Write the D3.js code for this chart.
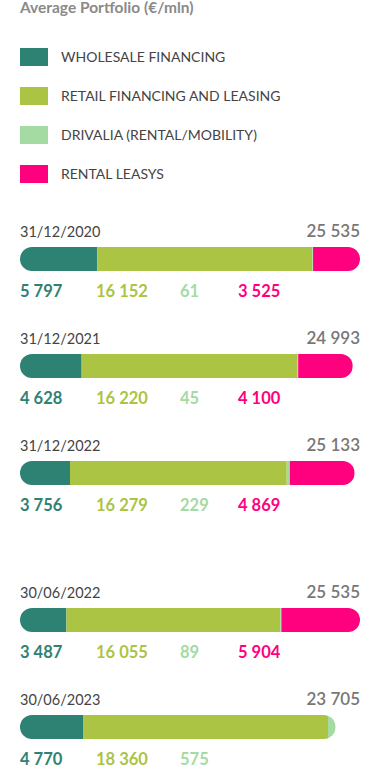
<!DOCTYPE html>
<html lang="en">
<head>
    <meta charset="UTF-8">
    <title>Average Portfolio</title>
    <script src="https://d3js.org/d3.v7.min.js"></script>
    <style>
        body { margin: 0; background: #fff; }
        svg text { font-family: Lato, "Open Sans", sans-serif; }
    </style>
</head>
<body>
    <script>
        // average portfolio (€/mln) by period
        var w = 380;
        var h = 766;

        var seriesNames = ['WHOLESALE FINANCING', 'RETAIL FINANCING AND LEASING', 'DRIVALIA (RENTAL/MOBILITY)', 'RENTAL LEASYS'];
        var seriesKeys = ['wholesale', 'retail', 'drivalia', 'rental'];
        var colors = ['#2e8274', '#abc443', '#a3dba2', '#ff007f'];

        var dates = ['31/12/2020', '31/12/2021', '31/12/2022', '30/06/2022', '30/06/2023'];
        var totals = [25535, 24993, 25133, 25535, 23705];
        var wholesale = [5797, 4628, 3756, 3487, 4770];
        var retail = [16152, 16220, 16279, 16055, 18360];
        var drivalia = [61, 45, 229, 89, 575];
        var rental = [3525, 4100, 4869, 5904, 0];

        var dataset = [];
        for (var i = 0; i < dates.length; i++) {
            dataset.push({
                date: dates[i],
                total: totals[i],
                wholesale: wholesale[i],
                retail: retail[i],
                drivalia: drivalia[i],
                rental: rental[i]
            });
        }

        var fmt = d3.formatLocale({ decimal: ',', thousands: ' ', grouping: [3], currency: ['', ''] }).format(',d');

        var barHeight = 24;
        var valueCols = [20, 96, 180, 238];

        var xScale = d3.scaleLinear()
                       .domain([0, d3.max(totals)])
                       .range([20, 360]);

        // groups are evenly spaced, with an extra gap before the half-year ones
        function groupY(i) {
            return 237 + i * 107 + (i >= 3 ? 40 : 0);
        }

        var stack = d3.stack().keys(seriesKeys);
        var stacked = stack(dataset);

        var svg = d3.select('body')
                    .append('svg')
                    .attr('width', w)
                    .attr('height', h);

        svg.append('text')
           .attr('x', 20)
           .attr('y', 13)
           .attr('font-size', 15.5)
           .attr('font-weight', 'bold')
           .attr('fill', '#8a8a8a')
           .text('Average Portfolio (€/mln)');

        // legend
        var legend = svg.selectAll('.legend')
                        .data(seriesNames)
                        .enter()
                        .append('g')
                        .attr('class', 'legend')
                        .attr('transform', function(d, i) {
                            return 'translate(20,' + (48 + i * 39) + ')';
                        });

        legend.append('rect')
              .attr('width', 28)
              .attr('height', 18)
              .attr('fill', function(d, i) { return colors[i]; });

        legend.append('text')
              .attr('x', 41)
              .attr('y', 14)
              .attr('font-size', 14)
              .attr('fill', '#444')
              .text(function(d) { return d; });

        // bar groups
        var groups = svg.selectAll('.group')
                        .data(dataset)
                        .enter()
                        .append('g')
                        .attr('class', 'group')
                        .attr('transform', function(d, i) {
                            return 'translate(0,' + groupY(i) + ')';
                        });

        groups.append('text')
              .attr('x', 20)
              .attr('y', 0)
              .attr('font-size', 14.5)
              .attr('fill', '#444')
              .text(function(d) { return d.date; });

        groups.append('text')
              .attr('x', 360)
              .attr('y', 0)
              .attr('text-anchor', 'end')
              .attr('font-size', 17)
              .attr('font-weight', 600)
              .attr('fill', '#777')
              .text(function(d) { return fmt(d.total); });

        groups.append('clipPath')
              .attr('id', function(d, i) { return 'clip' + i; })
              .append('rect')
              .attr('x', xScale(0))
              .attr('y', 10)
              .attr('width', function(d) { return xScale(d.total) - xScale(0); })
              .attr('height', barHeight)
              .attr('rx', barHeight / 2);

        groups.each(function(d, i) {
            var g = d3.select(this).append('g')
                      .attr('clip-path', 'url(#clip' + i + ')');
            g.selectAll('rect')
             .data(stacked.map(function(s) { return s[i]; }))
             .enter()
             .append('rect')
             .attr('x', function(p) { return xScale(p[0]); })
             .attr('y', 10)
             .attr('width', function(p) { return xScale(p[1]) - xScale(p[0]); })
             .attr('height', barHeight)
             .attr('fill', function(p, k) { return colors[k]; });
        });

        groups.each(function(d, i) {
            var vals = seriesKeys.map(function(k) { return d[k]; });
            d3.select(this).selectAll('.val')
              .data(vals.filter(function(v) { return v > 0; }))
              .enter()
              .append('text')
              .attr('class', 'val')
              .attr('x', function(v, k) { return valueCols[k]; })
              .attr('y', 60)
              .attr('font-size', 16.5)
              .attr('font-weight', 'bold')
              .attr('fill', function(v, k) { return colors[k]; })
              .text(function(v) { return fmt(v); });
        });
    </script>
</body>
</html>
